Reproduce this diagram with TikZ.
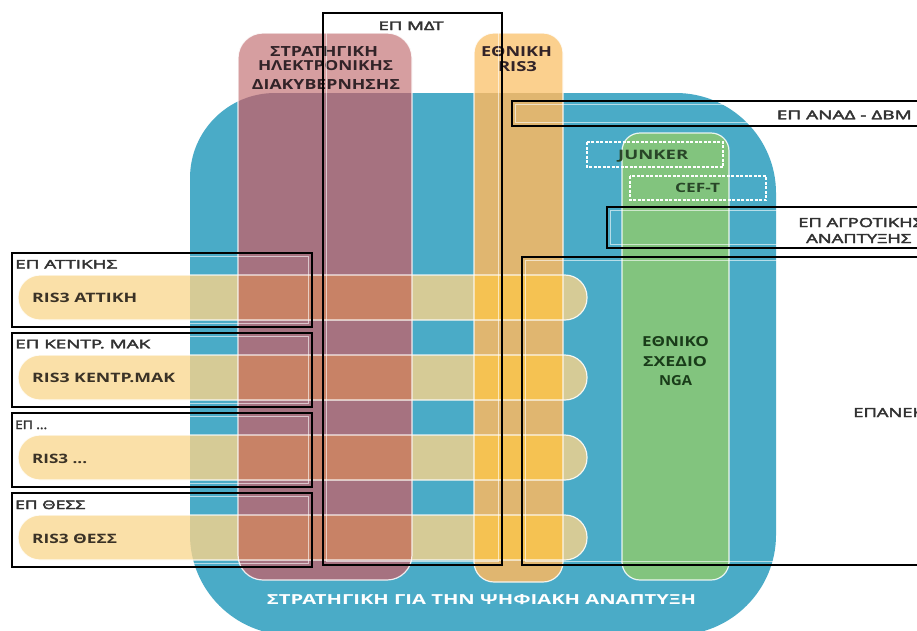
\documentclass[tikz,border=0pt]{standalone}
\usepackage{graphicx}
\usepackage{fontspec}
\setmainfont{Open Sans}
\newfontfamily\semib[FakeBold=2.6]{Open Sans}
\definecolor{blueC}{RGB}{74,171,199}
\definecolor{pinkW}{RGB}{214,158,160}
\definecolor{pinkB}{RGB}{166,114,128}
\definecolor{orangeW}{RGB}{251,208,142}
\definecolor{orangeB}{RGB}{224,182,112}
\definecolor{barW}{RGB}{250,224,168}
\definecolor{barB}{RGB}{214,203,150}
\definecolor{barP}{RGB}{200,130,102}
\definecolor{barO}{RGB}{245,194,82}
\definecolor{greenC}{RGB}{130,196,126}
\definecolor{labelC}{RGB}{50,50,50}
\definecolor{risC}{RGB}{58,50,38}
\definecolor{pinkT}{RGB}{50,35,40}
\definecolor{ngaT}{RGB}{25,60,25}
\definecolor{jT}{RGB}{40,70,40}
\newcommand\fitb[3]{\resizebox{#1pt}{#2pt}{\bfseries #3}}
\newcommand\fitr[3]{\resizebox{#1pt}{#2pt}{\semib #3}}
\newcommand\strr[1]{\scalebox{1.47}[1]{\fontsize{12.5}{14}\semib #1}}
\tikzset{
  bluepath/.style={insert path={(190,178) .. controls (190,131) and (228,93) .. (275,93) -- (676,93) .. controls (731,93) and (776,138) .. (776,193) -- (776,535) .. controls (776,590) and (731,635) .. (676,635) -- (290,635) .. controls (235,635) and (190,590) .. (190,535) -- cycle}},
  frame/.style={draw=black, line width=1.3pt},
  innerglow/.style={draw=white, draw opacity=0.6, line width=1.5pt},
  wborder/.style={draw=white, draw opacity=0.85, line width=1.2pt},
  dbox/.style={draw=white, line width=2.2pt, dash pattern=on 3pt off 1.5pt},
  lbl/.style={inner sep=0pt, text=labelC},
  ris/.style={inner sep=0pt, text=risC},
}
\begin{document}
\begin{tikzpicture}[x=1pt,y=-1pt]
\useasboundingbox (0,0) rectangle (917,630);
\fill[white] (0,0) rectangle (917,630);
% big blue shape
\fill[blueC, bluepath];
% pink column
\fill[pinkW, rounded corners=25pt] (238,33) rectangle (412,580);
\begin{scope}\clip[bluepath];
  \fill[pinkB, rounded corners=25pt] (238,33) rectangle (412,580);
\end{scope}
% orange column
\fill[orangeW, rounded corners=20pt] (474,33) rectangle (563,582);
\begin{scope}\clip[bluepath];
  \fill[orangeB, rounded corners=20pt] (474,33) rectangle (563,582);
\end{scope}
% green column
\fill[greenC, rounded corners=18pt] (622,133) rectangle (729,580);
% RIS3 bars
\foreach \y in {275,355,435,515}{
  \fill[barW, rounded corners=22pt] (18,\y) rectangle (587,\y+45);
}
\begin{scope}\clip[bluepath];
  \foreach \y in {275,355,435,515}{
    \fill[barB, rounded corners=22pt] (18,\y) rectangle (587,\y+45);
  }
\end{scope}
\begin{scope}\clip (238,0) rectangle (412,630);
  \foreach \y in {275,355,435,515}{
    \fill[barP] (18,\y) rectangle (587,\y+45);
  }
\end{scope}
\begin{scope}\clip (474,0) rectangle (563,630);
  \foreach \y in {275,355,435,515}{
    \fill[barO] (18,\y) rectangle (587,\y+45);
  }
\end{scope}
% white borders
\draw[wborder, rounded corners=25pt] (238,33) rectangle (412,580);
\draw[wborder, rounded corners=20pt] (474,33) rectangle (563,582);
\draw[wborder, rounded corners=18pt] (622,133) rectangle (729,580);
\foreach \y in {275,355,435,515}{
  \draw[wborder, rounded corners=22pt] (18,\y) rectangle (587,\y+45);
}
% dashed boxes
\draw[dbox] (587,142) rectangle (723,167);
\draw[dbox] (630,176) rectangle (766,200);
% texts
\node[lbl, anchor=base] (mdt) at (411,30) {\fitr{65}{8.5}{ΕΠ ΜΔΤ}};
\node[inner sep=0pt, anchor=base, text=pinkT] (s1) at (324,56.5) {\fitb{108}{10}{ΣΤΡΑΤΗΓΙΚΗ}};
\node[inner sep=0pt, anchor=base, text=pinkT] (s2) at (325.5,70.5) {\fitb{135}{10}{ΗΛΕΚΤΡΟΝΙΚΗΣ}};
\node[inner sep=0pt, anchor=base, text=pinkT] (s3) at (326,89) {\fitb{148}{10}{ΔΙΑΚΥΒΕΡΝΗΣΗΣ}};
\node[inner sep=0pt, anchor=base, text=pinkT] (e1) at (516.5,56) {\fitb{71}{10}{ΕΘΝΙΚΗ}};
\node[inner sep=0pt, anchor=base, text=pinkT] (e2) at (517.5,71.5) {\fitb{39}{10}{RIS3}};
\node[lbl, anchor=base east] (anad) at (912,119.3) {\fitr{135}{8.7}{ΕΠ ΑΝΑΔ - ΔΒΜ}};
\node[lbl, anchor=base west] (agr1) at (798,227) {\strr{ΕΠ ΑΓΡΟΤΙΚΗΣ}};
\node[lbl, anchor=base west] (agr2) at (806,243) {\strr{ΑΝΑΠΤΥΞΗΣ}};
\node[lbl, anchor=base west] (epanek) at (853,417) {\strr{ΕΠΑΝΕΚ}};
\node[inner sep=0pt, anchor=base, text=ngaT] (n1) at (675.5,346.7) {\fitb{67}{10}{ΕΘΝΙΚΟ}};
\node[inner sep=0pt, anchor=base, text=ngaT] (n2) at (675,366) {\fitb{64}{10}{ΣΧΕΔΙΟ}};
\node[inner sep=0pt, anchor=base, text=ngaT] (n3) at (675.5,385) {\fitb{33}{10}{NGA}};
\node[inner sep=0pt, anchor=base west, text=jT] (junker) at (618,159.3) {\fitb{70}{9.3}{JUNKER}};
\node[inner sep=0pt, anchor=base west, text=jT] (ceft) at (675,192.7) {\fitb{45}{9.3}{CEF-T}};
\node[lbl, anchor=base west] (l1) at (15,268.5) {\fitr{102}{8.5}{ΕΠ ΑΤΤΙΚΗΣ}};
\node[ris, anchor=base west] (r1) at (32,302.7) {\fitb{105}{9.4}{RIS3 ΑΤΤΙΚΗ}};
\node[lbl, anchor=base west] (l2) at (15,348.3) {\fitr{135}{8.5}{ΕΠ ΚΕΝΤΡ. ΜΑΚ}};
\node[ris, anchor=base west] (r2) at (32,382.7) {\fitb{143}{9.4}{RIS3 ΚΕΝΤΡ.ΜΑΚ}};
\node[lbl, anchor=base west] (l3) at (15,429) {\fitr{32}{8.5}{ΕΠ ...}};
\node[ris, anchor=base west] (r3) at (32,463) {\fitb{55}{9.4}{RIS3 ...}};
\node[lbl, anchor=base west] (l4) at (15,509) {\fitr{70}{8.5}{ΕΠ ΘΕΣΣ}};
\node[ris, anchor=base west] (r4) at (32,543) {\fitb{85}{9.4}{RIS3 ΘΕΣΣ}};
\node[inner sep=0pt, anchor=base, text=white] (bottom) at (481.5,604) {\fitb{429}{10}{ΣΤΡΑΤΗΓΙΚΗ ΓΙΑ ΤΗΝ ΨΗΦΙΑΚΗ ΑΝΑΠΤΥΞΗ}};
% frames (programmes)
\foreach \a/\b/\c/\d in {323/13/502/565, 512/101/925/126, 607/207/925/248, 522/257/925/565, 12/253/312/327, 12/333/312/407, 12/413/312/487, 12/493/312/567}{
  \draw[innerglow] (\a+3.5,\b+3.5) rectangle (\c-3.5,\d-3.5);
  \draw[frame] (\a,\b) rectangle (\c,\d);
}
\end{tikzpicture}
\end{document}
